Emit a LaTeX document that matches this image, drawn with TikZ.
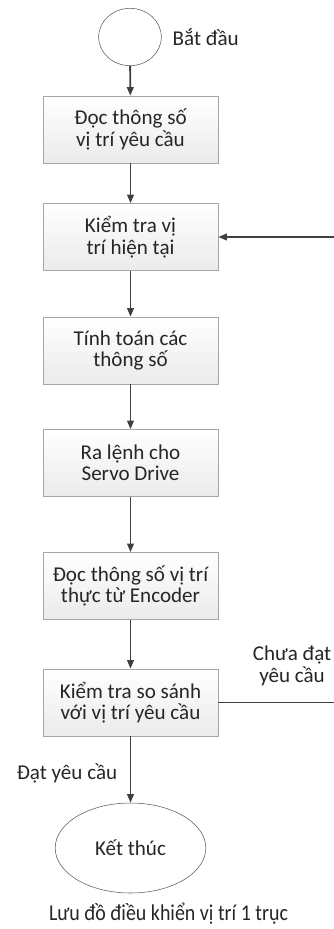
\documentclass[tikz,border=0pt]{standalone}
\usepackage{fontspec}
\setmainfont{Carlito}
\newfontfamily\capfont[FakeStretch=0.88]{Carlito}
\usetikzlibrary{shapes.geometric,arrows.meta}

\begin{document}
\begin{tikzpicture} [x=0.75pt, y=-0.75pt,
 every node/.style = {font=\fontsize{15.8}{16}\selectfont, text=black!85},
 procbox/.style = {shape=rectangle, draw=gray!70, top color=white, bottom color=gray!16,
 minimum width=131.25pt, minimum height=50.25pt, align=center, inner sep=2pt},
 termnode/.style = {shape=ellipse, draw=black!65, fill=white, inner sep=0pt},
 flow/.style = {draw=black!75, line width=1.4pt, -{Triangle[length=6.5pt,width=5pt]}}]
 \useasboundingbox (0,0) rectangle (334,929);

 \node (start)[termnode, minimum width=47pt, minimum height=43pt] at (130,37) {};
 \node (startlbl)[anchor=west] at (168,37) {Bắt đầu};

 \node (readreq)[procbox] at (130.5,129.5) {Đọc thông số\\vị trí yêu cầu};
 \node (checkpos)[procbox] at (130.5,237) {Kiểm tra vị\\trí hiện tại};
 \node (calc)[procbox] at (130.5,350.5) {Tính toán các\\thông số};
 \node (cmd)[procbox] at (130.5,463) {Ra lệnh cho\\Servo Drive};
 \node (readenc)[procbox] at (130.5,586) {Đọc thông số vị trí\\thực từ Encoder};
 \node (compare)[procbox] at (130.5,702.5) {Kiểm tra so sánh\\với vị trí yêu cầu};

 \node (stop)[termnode, minimum width=113pt, minimum height=67.5pt] at (130.5,848) {Kết thúc};

 % nhan tren cac nhanh
 \node (oklbl)[anchor=base] at (67,779) {Đạt yêu cầu};
 \node (notoklbl)[align=center] at (292,666) {Chưa đạt\\yêu cầu};

 \foreach \a/\b in {start/readreq, readreq/checkpos, checkpos/calc, calc/cmd,
 cmd/readenc, readenc/compare, compare/stop}
 \draw [flow] (\a) -- (\b);

 % vong lap ve buoc kiem tra
 \coordinate (back) at (342,702.5);
 \draw [flow] (compare.east) -- (back) |- (checkpos.east);

 \node (caption)[anchor=base, font=\capfont\fontsize{17}{18}\selectfont] at (168.5,920)
 {Lưu đồ điều khiển vị trí 1 trục};
\end{tikzpicture}
\end{document}
